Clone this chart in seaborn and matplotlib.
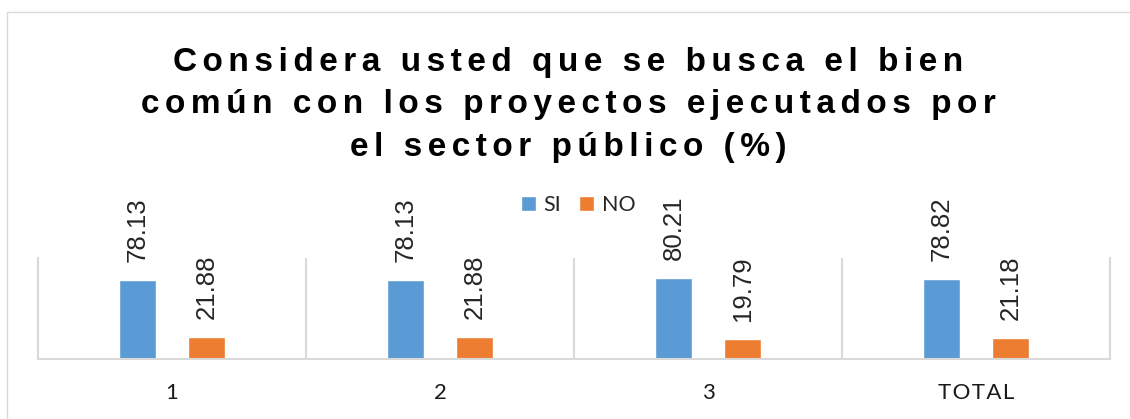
import pandas as pd
import seaborn as sns
import matplotlib.pyplot as plt
from matplotlib.patches import Rectangle

grupos = ['1', '2', '3', 'TOTAL']
si = [78.13, 78.13, 80.21, 78.82]
no = [21.88, 21.88, 19.79, 21.18]
series = ['SI', 'NO']
titulo = ['Considera usted que se busca el bien',
          'común con los proyectos ejecutados por',
          'el sector público (%)']

azul = '#5B9BD5'
naranja = '#ED7D31'
gris = '#D9D9D9'


def espaciar(s, sep='\u200a'):
    return sep.join(s)


df = pd.DataFrame({
    'grupo': grupos * 2,
    'serie': [series[0]] * len(grupos) + [series[1]] * len(grupos),
    'valor': si + no,
})

sns.set_style('white')
plt.rcParams['font.family'] = ['Liberation Sans', 'DejaVu Sans']

fig = plt.figure(figsize=(11.3, 4.19), dpi=100)
ax = fig.add_axes([38 / 1130, 1 - 359 / 419, (1110 - 38) / 1130, 101 / 419])

sns.barplot(data=df, x='grupo', y='valor', hue='serie', order=grupos,
            hue_order=series, palette=[azul, naranja], width=0.515, gap=0.476,
            saturation=1, ax=ax)

for cont in ax.containers:
    ax.bar_label(cont, fmt='%.2f', rotation=90, padding=13, fontsize=18.5,
                 family=['Liberation Sans', 'DejaVu Sans'])

ax.set_ylim(0, 100)
ax.set_xlim(-0.5, len(grupos) - 0.5)
ax.set_yticks([])
ax.set_xlabel('')
ax.set_ylabel('')
ax.vlines([i + 0.5 for i in range(len(grupos) - 1)], 0, 100, color=gris, lw=1.5)
for lado in ['left', 'right', 'bottom']:
    ax.spines[lado].set_color(gris)
    ax.spines[lado].set_linewidth(1.5)
ax.spines['top'].set_visible(False)
ax.tick_params(axis='x', length=0, pad=17)
ax.set_xticks(range(len(grupos)))
ax.set_xticklabels([espaciar(g) if len(g) > 1 else g for g in grupos],
                   fontsize=16, family=['Lato', 'DejaVu Sans'], color='#1a1a1a')

handles, labels = ax.get_legend_handles_labels()
ax.legend_.remove()
fig.legend(handles, labels, loc='center', bbox_to_anchor=(578 / 1130, 1 - 205 / 419),
           ncol=2, frameon=False, handlelength=0.72, handleheight=0.72,
           handletextpad=0.35, columnspacing=0.8,
           prop={'family': ['Lato', 'DejaVu Sans'], 'size': 15.5})

fig.text(0.503, 1 - 105 / 419, '\n'.join(espaciar(t, '\u200a\u200a') for t in titulo),
         ha='center', va='center', fontsize=24, fontweight='bold',
         linespacing=1.47, color='black')

fig.patches.append(Rectangle((7 / 1130, -0.1), 2, 1.1 - 12 / 419, transform=fig.transFigure,
                             fill=False, edgecolor=gris, lw=1))

fig.savefig('out.png', dpi=100)
